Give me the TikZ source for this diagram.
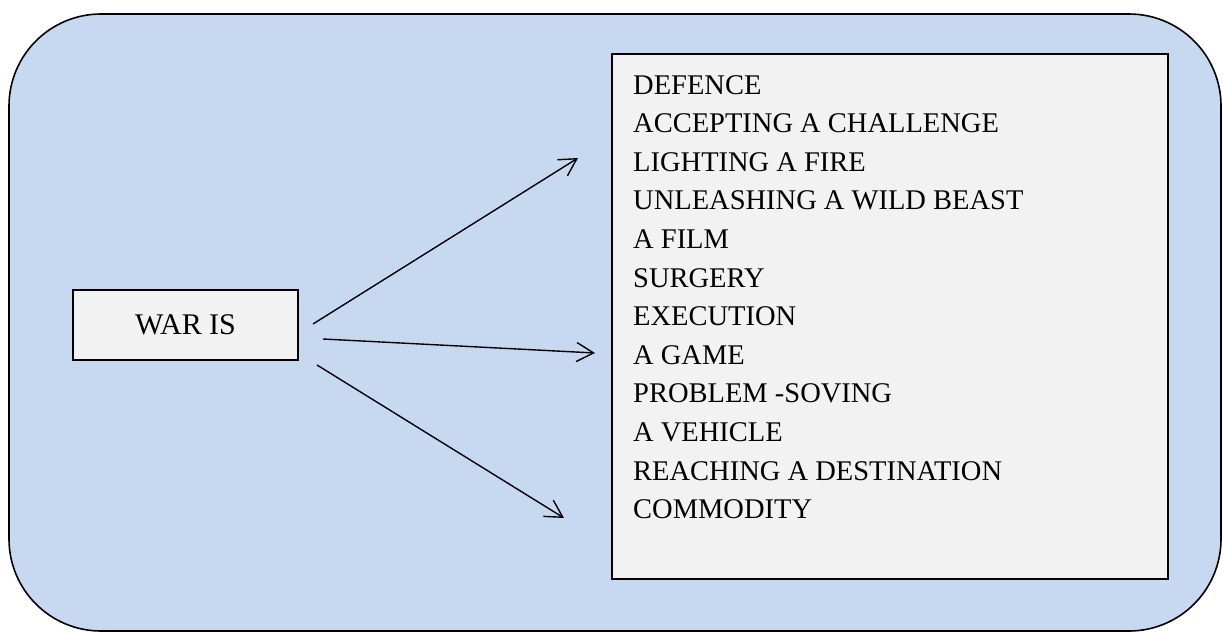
\documentclass[tikz,border=0pt]{standalone}
\usepackage{fontspec}
\setmainfont{Liberation Serif}
\usetikzlibrary{arrows.meta}
\definecolor{bgblue}{HTML}{C6D9F1}
\definecolor{boxgray}{HTML}{F2F2F2}
\begin{document}
\begin{tikzpicture}[x=1pt,y=-1pt,
  panel/.style={draw=black, line width=1.6pt, fill=bgblue, rounded corners=92pt},
  graybox/.style={draw=black, line width=1.5pt, fill=boxgray, rectangle, inner sep=0pt},
  itemtext/.style={anchor=base west, inner sep=0pt, font=\fontsize{28.5}{34}\selectfont},
  arr/.style={line width=1.4pt, -{Straight Barb[length=17pt, width=19pt, line width=1.4pt]}}
]
\useasboundingbox (0,0) rectangle (1223,632);
\draw[panel] (9,14) rectangle (1221,631);

\node[graybox, minimum width=225pt, minimum height=70pt,
      font=\fontsize{30}{36}\selectfont] (war) at (185.5,325) {WAR IS};

\node[graybox, minimum width=556pt, minimum height=525pt] (list) at (890,316.5) {};

\foreach \t [count=\i from 0] in {DEFENCE, ACCEPTING A CHALLENGE, LIGHTING A FIRE,
  UNLEASHING A WILD BEAST, A FILM, SURGERY, EXECUTION, A GAME, PROBLEM -SOVING,
  A VEHICLE, REACHING A DESTINATION, COMMODITY}
  \node[itemtext] (item\i) at (633,{94+38.6*\i}) {\t};

\coordinate (s1) at (313,324);
\coordinate (s2) at (323,339);
\coordinate (s3) at (317,365);
\coordinate (t1) at (578,158);
\coordinate (t2) at (595,353);
\coordinate (t3) at (564,518);
\draw[arr] (s1) -- (t1);
\draw[arr] (s2) -- (t2);
\draw[arr] (s3) -- (t3);
\end{tikzpicture}
\end{document}
